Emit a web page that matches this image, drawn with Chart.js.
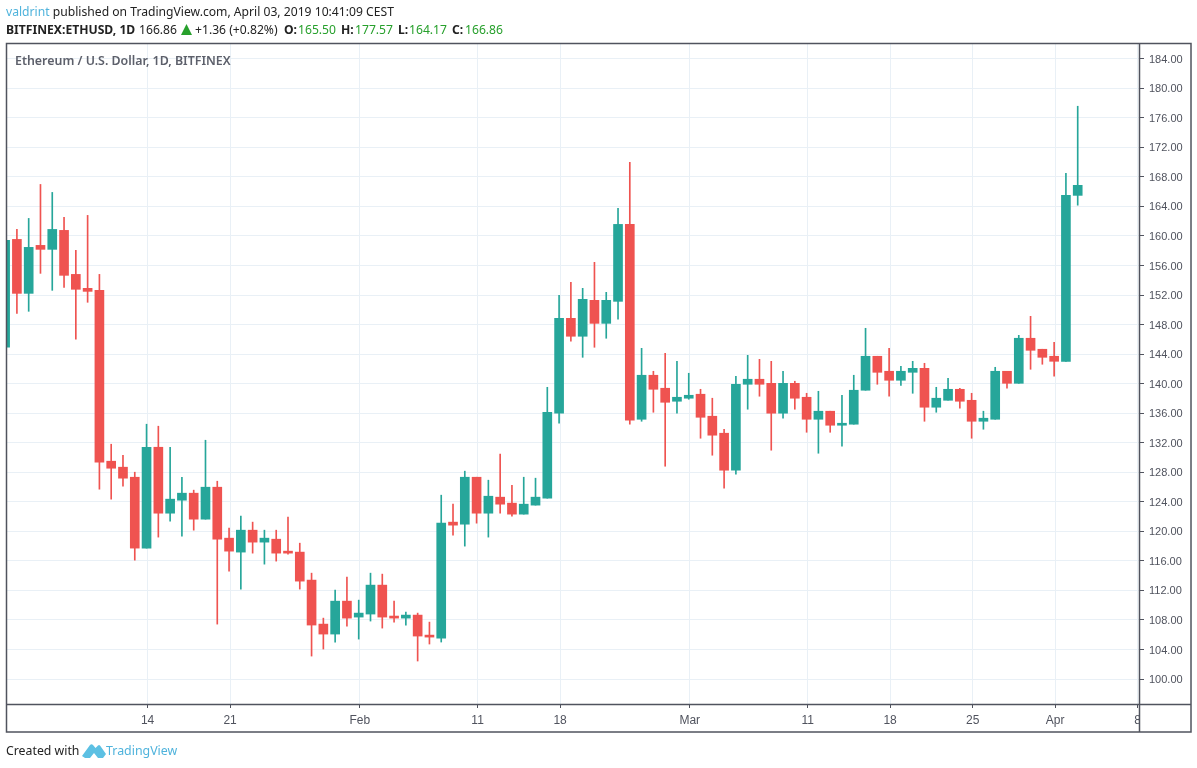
<!DOCTYPE html>
<html>
<head>
<meta charset="utf-8">
<script src="https://cdn.jsdelivr.net/npm/chart.js@4"></script>
<style>
html,body{margin:0;padding:0;background:#fff;overflow:hidden}
#wrap{position:relative;width:1197px;height:768px}
canvas{position:absolute;left:0;top:0}
.t{position:absolute;white-space:nowrap;font-family:"Noto Sans",sans-serif;font-size:12.15px;line-height:16px;color:#222}
.b{font-weight:700}.g{color:#27a02c}.bl{color:#4fb3dc}
.r2{top:22px}
</style>
</head>
<body>
<div id="wrap">
<canvas id="c" width="1197" height="768"></canvas>
<div class="t" style="left:6px;top:4px"><span class="bl">valdrint</span> published on TradingView.com, April 03, 2019 10:41:09 CEST</div>
<div class="t r2 b" style="left:6px">BITFINEX:ETHUSD, 1D</div>
<div class="t r2" style="left:139px">166.86</div>
<svg style="position:absolute;left:181px;top:24px" width="11" height="11" viewBox="0 0 11 11"><path d="M5.5 0 L11 11 L0 11 Z" fill="#27a02c"/></svg>
<div class="t r2" style="left:195px">+1.36 (+0.82%)</div>
<div class="t r2 b" style="left:284px">O:</div>
<div class="t r2 g" style="left:298px">165.50</div>
<div class="t r2 b" style="left:341px">H:</div>
<div class="t r2 g" style="left:355px">177.57</div>
<div class="t r2 b" style="left:398px">L:</div>
<div class="t r2 g" style="left:409px">164.17</div>
<div class="t r2 b" style="left:452px">C:</div>
<div class="t r2 g" style="left:465px">166.86</div>
<div class="t" style="left:15px;top:53px;color:#5d606b;font-weight:600;font-size:12.4px">Ethereum / U.S. Dollar, 1D, BITFINEX</div>
<div class="t" style="left:6px;top:743px;font-size:12.3px">Created with</div>
<svg style="position:absolute;left:82px;top:743px" width="24" height="15" viewBox="0 0 24 15"><path d="M0 13 L8 2 Q9.5 0.5 11 2 L13.5 5 L16 2.5 Q17 1.5 18 2.5 L24 11 L21 15 L16 15 L12 10 L8 15 L3 15 Z" fill="#5cc0e3"/></svg>
<div class="t bl" style="left:106px;top:743px;font-size:12.4px">TradingView</div>
</div>
<script>
const days = Array.from({length: 92}, (_, i) => i);
const opens = [144.93,159.54,152.23,158.73,158.19,160.76,154.80,152.91,152.64,129.50,128.69,127.33,117.73,131.39,122.46,124.22,125.17,121.65,125.98,119.08,117.19,120.16,118.54,118.94,117.19,117.19,113.40,107.44,106.09,110.55,108.39,108.80,112.72,108.53,108.25,108.66,105.95,105.55,121.25,120.97,127.33,122.46,124.63,123.82,122.33,123.55,124.49,136.00,148.85,146.42,151.29,148.17,151.15,161.57,135.18,141.14,139.38,137.62,138.03,138.57,135.59,133.29,128.28,139.92,140.60,140.05,136.00,140.05,138.16,135.18,136.27,134.37,134.51,139.11,143.71,141.68,140.46,141.54,142.08,136.81,137.75,139.24,137.75,134.91,135.18,141.68,140.05,146.15,144.66,143.71,143.03,165.50];
const highs = [160.00,160.89,162.38,166.98,165.90,162.52,158.05,162.79,154.80,131.80,130.31,128.01,134.51,134.24,131.39,127.33,125.58,132.34,126.79,120.43,122.06,121.25,120.16,120.16,121.92,118.40,114.34,108.25,112.04,113.80,110.69,114.34,114.21,110.55,109.07,108.93,107.71,124.90,123.68,128.15,127.33,126.93,130.45,126.25,127.33,127.20,139.51,151.96,153.72,152.91,156.43,152.37,163.74,169.96,144.79,141.68,144.11,143.03,141.41,139.24,138.03,133.83,141.00,143.84,143.30,143.03,141.68,140.33,138.70,138.97,136.27,138.43,141.14,147.50,143.71,144.79,142.36,143.03,142.76,139.51,140.73,139.38,138.70,136.27,142.22,141.68,146.55,149.12,144.66,145.60,168.47,177.57];
const lows = [144.93,149.53,149.80,154.94,152.64,153.05,146.01,151.02,125.71,124.36,126.12,116.10,117.73,119.22,121.38,119.35,120.16,121.65,107.44,114.61,112.18,117.05,115.56,115.97,116.92,112.18,103.11,104.06,105.01,107.17,105.41,107.85,106.90,107.71,107.31,102.44,104.74,105.01,119.49,118.00,121.11,119.22,122.46,122.06,122.33,123.55,124.49,134.64,145.74,143.57,144.93,146.15,148.72,134.51,134.91,136.13,128.82,136.00,137.89,132.61,130.31,125.85,127.74,136.54,138.30,130.99,135.32,136.54,133.42,130.58,133.42,131.53,134.51,139.11,139.92,138.30,139.78,138.70,134.91,136.13,137.75,136.67,132.61,133.83,135.18,139.38,140.05,141.95,142.63,141.00,143.03,164.17];
const closes = [159.41,152.23,158.46,158.19,160.89,154.67,152.78,152.50,129.36,128.55,127.20,117.73,131.39,122.46,124.36,125.17,121.65,125.98,118.94,117.32,120.16,118.54,119.08,117.05,117.05,113.26,107.31,106.09,110.55,108.25,108.93,112.72,108.39,108.25,108.66,105.82,105.68,121.11,120.84,127.33,122.46,124.76,123.68,122.33,123.68,124.63,136.13,148.85,146.42,151.42,148.17,151.29,161.57,135.05,141.14,139.24,137.48,138.16,138.43,135.45,133.02,128.28,139.92,140.60,139.92,136.00,140.05,138.03,135.18,136.27,134.37,134.64,139.11,143.71,141.54,140.46,141.68,142.08,136.81,138.03,139.24,137.62,134.91,135.32,141.68,140.05,146.15,144.52,143.57,143.03,165.50,166.86];
const yTicks = [100,104,108,112,116,120,124,128,132,136,140,144,148,152,156,160,164,168,172,176,180,184];
const xTickDays = [12,19,30,40,47,58,68,75,82,89,96];
const xTickLabels = ['14','21','Feb','11','18','Mar','11','18','25','Apr','8'];

const UP = '#26a69a', DOWN = '#ef5350', GRID = '#e9f0f6', AXIS = '#50535e', LABEL = '#50535e';
const color = ctx => closes[ctx.dataIndex] >= opens[ctx.dataIndex] ? UP : DOWN;
const wicks = days.map((d, i) => ({x: d, y: [lows[i], highs[i]]}));
const bodies = days.map((d, i) => ({x: d, y: [opens[i], closes[i]]}));

const frame = {
  id: 'frame',
  afterDraw(chart) {
    const {ctx, chartArea: a} = chart;
    ctx.save();
    ctx.fillStyle = '#fff';
    ctx.fillRect(a.right, a.bottom + 1, 50, 27);
    ctx.strokeStyle = AXIS;
    ctx.lineWidth = 1.5;
    ctx.strokeRect(6.5, 43.5, 1184.5, 688.5);
    ctx.beginPath();
    ctx.moveTo(6.5, a.bottom + .5); ctx.lineTo(1191, a.bottom + .5);
    ctx.moveTo(a.right + .5, 43.5); ctx.lineTo(a.right + .5, 732);
    ctx.stroke();
    ctx.restore();
  }
};

new Chart(document.getElementById('c'), {
  type: 'bar',
  data: {datasets: [
    {label: 'wick', data: wicks, backgroundColor: color, barThickness: 1, grouped: false, order: 2, minBarLength: 1},
    {label: 'body', data: bodies, backgroundColor: color, barThickness: 9, grouped: false, order: 1, minBarLength: 2}
  ]},
  plugins: [frame],
  options: {
    responsive: false, animation: false, devicePixelRatio: 1,
    layout: {padding: {left: 7, top: 44, right: 0, bottom: 0}},
    plugins: {legend: {display: false}, tooltip: {enabled: false}, title: {display: false}},
    scales: {
      x: {
        type: 'linear', min: 0.16, max: 96.2, offset: false,
        afterBuildTicks: s => { s.ticks = xTickDays.map(v => ({value: v + 0.085})); },
        afterFit: s => { s.height = 64; },
        grid: {color: GRID, tickColor: AXIS, tickLength: 4, lineWidth: 1, drawOnChartArea: true, offset: false},
        border: {display: false},
        ticks: {autoSkip: false, maxRotation: 0, padding: 5, color: LABEL, font: {family: 'Liberation Sans, Arial', size: 12},
                callback: (v, i) => xTickLabels[i]}
      },
      y: {
        position: 'right', min: 96.62, max: 186,
        afterBuildTicks: s => { s.ticks = yTicks.map(v => ({value: v})); },
        afterFit: s => { s.width = 58; },
        grid: {color: GRID, tickColor: AXIS, tickLength: 5, lineWidth: 1},
        border: {display: false},
        ticks: {autoSkip: false, padding: 5, labelOffset: 1, color: LABEL, font: {family: 'Liberation Sans, Arial', size: 11},
                callback: v => Number(v).toFixed(2)}
      }
    }
  }
});
</script>
</body>
</html>
